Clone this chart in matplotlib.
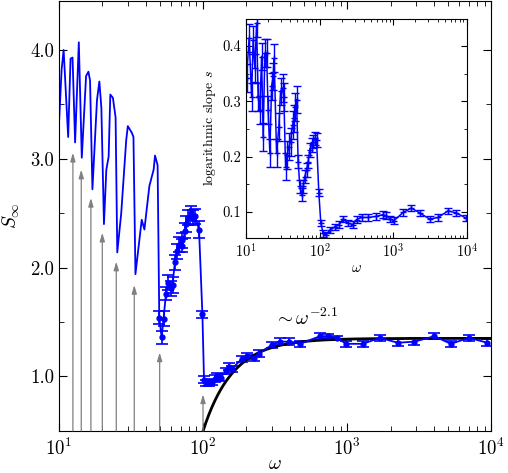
import matplotlib
matplotlib.use("Agg")
import matplotlib.pyplot as plt
import numpy as np
from matplotlib.ticker import MultipleLocator, FormatStrFormatter

plt.rcParams['font.family'] = 'serif'
plt.rcParams['font.serif'] = ['cmr10']
plt.rcParams['mathtext.fontset'] = 'cm'
plt.rcParams['axes.formatter.use_mathtext'] = True

# === DATA ===
# oscillating part, line only
omega_line = [10.0, 10.44, 10.78, 11.59, 12.04, 12.43, 12.95, 13.74, 14.41, 15.43,
              16.02, 16.44, 17.08, 18.37, 19.08, 19.70, 20.53, 21.33, 22.13, 22.73,
              23.69, 24.73, 25.40, 27.06, 29.30, 30.06, 32.03, 32.90, 33.96, 37.54,
              39.19, 42.43, 45.42, 46.44, 48.40]
S_line = [3.31, 3.82, 4.00, 3.20, 3.92, 3.93, 3.15, 4.07, 3.01, 3.76,
          3.80, 3.72, 2.72, 3.54, 3.71, 3.47, 2.40, 2.90, 3.02, 3.59,
          3.56, 3.38, 2.14, 2.50, 3.17, 3.30, 3.24, 3.20, 1.94, 2.44,
          2.35, 2.75, 2.90, 3.03, 2.94]

# part with error bars
omega_err = [49.7, 51.6, 53.2, 55.3, 57.4, 59.9, 61.4, 63.8, 65.9, 68.3,
             70.9, 72.0, 74.8, 76.7, 79.2, 82.3, 85.7, 88.1, 93.8, 99.0,
             101.6, 105, 110, 116, 121, 125.6, 132.5, 143.5, 151, 159,
             185, 202, 225, 243, 300, 343, 392, 472, 648, 740,
             844, 988, 1288, 1681, 2249, 2933, 4029, 5240, 7015, 9380]
S_err = [1.54, 1.36, 1.53, 1.76, 1.86, 1.81, 1.84, 2.05, 2.15, 2.21,
         2.25, 2.20, 2.34, 2.40, 2.46, 2.50, 2.46, 2.47, 2.35, 1.57,
         0.97, 0.94, 0.94, 0.95, 0.98, 1.00, 0.99, 1.05, 1.09, 1.07,
         1.16, 1.19, 1.17, 1.21, 1.29, 1.32, 1.32, 1.30, 1.37, 1.37,
         1.355, 1.30, 1.30, 1.355, 1.31, 1.32, 1.37, 1.30, 1.355, 1.31]
dS = [0.06, 0.06, 0.07, 0.06, 0.07, 0.07, 0.07, 0.07, 0.07, 0.07,
      0.07, 0.06, 0.07, 0.07, 0.07, 0.07, 0.07, 0.07, 0.08, 0.03,
      0.03, 0.03, 0.03, 0.03, 0.03, 0.03, 0.03, 0.03, 0.03, 0.03,
      0.03, 0.03, 0.03, 0.03, 0.03, 0.03, 0.03, 0.03, 0.03, 0.02,
      0.02, 0.03, 0.03, 0.03, 0.03, 0.03, 0.03, 0.03, 0.03, 0.03]

# resonance arrows at omega = 100/n
arrow_omega = [100/8, 100/7, 100/6, 100/5, 100/4, 100/3, 100/2, 100/1]
arrow_tip = [3.055, 2.90, 2.64, 2.32, 2.055, 1.84, 1.22, 0.835]

# fit  S = S_inf - B * omega^-2.1
S_plateau = 1.35
B_fit = 13500.0
p_fit = 2.1

# inset: logarithmic slope
omega_s = [10.2, 11.08, 11.95, 12.56, 13.25, 13.97, 14.69, 15.49, 16.33, 17.17,
           18.11, 19.09, 20.07, 21.17, 22.32, 23.47, 24.21, 26.10, 28.04, 29.57,
           31.48, 32.79, 34.58, 36.35, 38.32, 40.42, 43.02, 44.80, 46.66, 48.75,
           51.25, 54.03, 56.98, 59.90, 63.17, 66.62, 70.03, 73.85, 77.88, 81.88,
           86.35, 91.06, 97.84, 104.1, 111.9, 121.8, 138, 161.3, 184.5, 209.1,
           244.4, 280.4, 317.7, 371.5, 456.3, 593.4, 716, 811, 919, 1019,
           1362, 1772, 2296, 3138, 4067, 5559, 7226, 9663]
s_val = [0.342, 0.414, 0.308, 0.411, 0.360, 0.441, 0.308, 0.284, 0.381, 0.236,
         0.387, 0.387, 0.284, 0.206, 0.327, 0.345, 0.378, 0.206, 0.254, 0.318,
         0.324, 0.308, 0.182, 0.203, 0.218, 0.227, 0.257, 0.269, 0.290, 0.303,
         0.191, 0.146, 0.131, 0.146, 0.164, 0.176, 0.191, 0.212, 0.221, 0.227,
         0.233, 0.230, 0.135, 0.080, 0.061, 0.058, 0.067, 0.073, 0.077, 0.087,
         0.080, 0.077, 0.086, 0.090, 0.090, 0.092, 0.095, 0.093, 0.087, 0.084,
         0.099, 0.107, 0.098, 0.087, 0.090, 0.102, 0.098, 0.089]
ds_val = [0.025] * 30 + [0.012] * 12 + [0.006] * 26

blue = '#0000ff'

# === MAIN PLOT ===
fig = plt.figure(figsize=(5.08, 4.73), dpi=100)
ax = fig.add_axes([0.116, 0.089, 0.851, 0.909])

for w, tip in zip(arrow_omega, arrow_tip):
    ax.annotate('', xy=(w, tip), xytext=(w, 0.5),
                arrowprops=dict(arrowstyle='-|>,head_length=0.5,head_width=0.15',
                                color='#808080', lw=0.9, shrinkA=0, shrinkB=0))

ax.plot(omega_line + omega_err[:1], S_line + S_err[:1], color=blue, lw=1.3)
ax.errorbar(omega_err, S_err, yerr=dS, fmt='o-', color=blue, ms=3.5, lw=1.3,
            elinewidth=1.2, capsize=4, capthick=1.2)

w_fit = np.logspace(2, 4, 300)
ax.plot(w_fit, S_plateau - B_fit * w_fit ** (-p_fit), color='black', lw=2)
ax.text(520, 1.53, r'$\sim\omega^{-2.1}$', fontsize=14, ha='center', va='center')

ax.set_xscale('log')
ax.set_xlim(10, 1e4)
ax.set_ylim(0.5, 4.45)
ax.yaxis.set_major_locator(MultipleLocator(1.0))
ax.yaxis.set_minor_locator(MultipleLocator(0.5))
ax.yaxis.set_major_formatter(FormatStrFormatter('%.1f'))
ax.tick_params(which='both', direction='in', top=True, right=True, labelsize=13.5)
ax.tick_params(axis='x', pad=5)
ax.tick_params(which='major', length=6)
ax.tick_params(which='minor', length=3.5)
ax.set_xlabel(r'$\omega$', fontsize=14, labelpad=-3)
ax.set_ylabel(r'$S_\infty$', fontsize=14, labelpad=6)

# === INSET ===
axi = fig.add_axes([0.484, 0.497, 0.435, 0.463])
axi.errorbar(omega_s, s_val, yerr=ds_val, fmt='+-', color=blue, ms=5, lw=1.1,
             elinewidth=1.0, capsize=3, capthick=1.0)
axi.set_xscale('log')
axi.set_xlim(10, 1e4)
axi.set_ylim(0.053, 0.449)
axi.yaxis.set_major_locator(MultipleLocator(0.1))
axi.yaxis.set_minor_locator(MultipleLocator(0.05))
axi.yaxis.set_major_formatter(FormatStrFormatter('%.1f'))
axi.tick_params(which='both', direction='in', top=True, right=True, labelsize=10.5)
axi.tick_params(which='major', length=4)
axi.tick_params(which='minor', length=2.5)
axi.set_xlabel(r'$\omega$', fontsize=10.5, labelpad=0)
axi.set_ylabel(r'logarithmic slope $s$', fontsize=10, labelpad=3)

plt.savefig("out.png", dpi=100)
